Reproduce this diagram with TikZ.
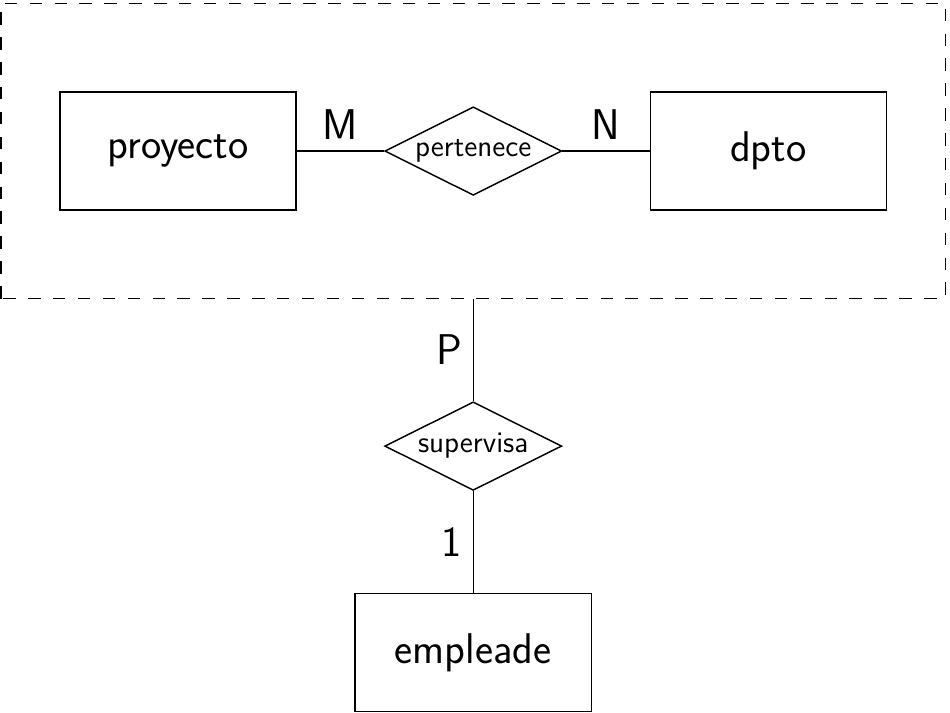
\documentclass[tikz,border=0pt]{standalone}
\usepackage{tikz}
\usetikzlibrary{shapes.geometric}

\tikzset{
    entidad/.style={draw, minimum width=4cm, minimum height=2cm, font=\sffamily\huge},
    relacion/.style={draw, diamond, aspect=2, minimum width=3cm, minimum height=1.5cm, inner sep=0pt, font=\sffamily\Large},
    card/.style={font=\sffamily\huge, inner sep=5pt}
}

\begin{document}
\begin{tikzpicture}[scale=1, line width=0.7pt]

\useasboundingbox (-8.02,-9.52) rectangle (8.08,2.56);

% Aggregation box
\draw[dash pattern=on 6pt off 6pt] (-8,-2.5) rectangle (8,2.5);
\coordinate (agg) at (0,-2.5);

% Entities and relationships
\node[entidad] (proyecto) at (-5,0) {proyecto};
\node[entidad] (dpto) at (5,0) {dpto};
\node[relacion] (pertenece) at (0,0) {pertenece};
\node[relacion] (supervisa) at (0,-5) {supervisa};
\node[entidad] (empleade) at (0,-8.5) {empleade};

% Links
\draw (proyecto) -- node[card, above] {M} (pertenece);
\draw (pertenece) -- node[card, above] {N} (dpto);
\draw (agg) -- node[card, left] {P} (supervisa);
\draw (supervisa) -- node[card, left] {1} (empleade);

\end{tikzpicture}
\end{document}
